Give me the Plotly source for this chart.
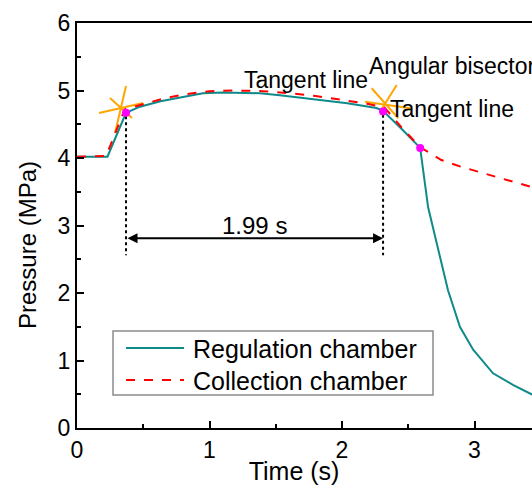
import plotly.graph_objects as go

# Regulation chamber (solid teal)
reg_t = [0, 0.23, 0.37, 0.475, 0.63, 0.78, 0.95, 1.1, 1.38, 1.53, 1.78, 2.04, 2.26, 2.31, 2.46, 2.59,
         2.65, 2.72, 2.80, 2.89, 2.99, 3.14, 3.29, 3.43, 3.5]
reg_p = [4.02, 4.02, 4.67, 4.76, 4.84, 4.90, 4.96, 4.97, 4.96, 4.93, 4.87, 4.81, 4.74, 4.70, 4.41, 4.15,
         3.27, 2.68, 2.04, 1.50, 1.16, 0.81, 0.64, 0.50, 0.46]
# Collection chamber (red dashed)
col_t = [0, 0.22, 0.36, 0.5, 0.65, 0.8, 1.0, 1.2, 1.4, 1.6, 1.8, 2.0, 2.2, 2.32, 2.46, 2.59,
         2.75, 2.9, 3.1, 3.3, 3.5]
col_p = [4.02, 4.03, 4.72, 4.80, 4.88, 4.94, 4.99, 5.00, 4.99, 4.96, 4.92, 4.86, 4.80, 4.75, 4.43, 4.16,
         3.97, 3.87, 3.76, 3.64, 3.53]
# Characteristic points (magenta)
pt_t = [0.37, 2.31, 2.59]
pt_p = [4.67, 4.69, 4.15]
# Tangent / bisector construction segments (orange)
seg_t = [0.166, 0.498, None, 0.287, 0.370, None, 0.249, 0.415, None,
         2.174, 2.513, None, 2.224, 2.425, None, 2.413, 2.287]
seg_p = [4.667, 4.815, None, 4.370, 5.067, None, 4.889, 4.593, None,
         4.834, 4.736, None, 5.033, 4.588, None, 5.081, 4.686]
# Dotted markers of the interval
vline_t = [0.37, 0.37, None, 2.31, 2.31]
vline_p = [4.62, 2.56, None, 4.64, 2.56]
interval_start, interval_end, interval_y = 0.37, 2.31, 2.81
interval_label = "1.99 s"

TEAL = "#0e8a8a"
RED = "#ff0000"
FONT = "Liberation Sans, Arial, sans-serif"

W, H = 532, 485
L, R, T, B = 77, 0, 23, 57

fig = go.Figure()
fig.add_trace(go.Scatter(x=seg_t, y=seg_p, mode="lines", line=dict(color="#ffa500", width=2),
                         showlegend=False, hoverinfo="skip"))
fig.add_trace(go.Scatter(x=vline_t, y=vline_p, mode="lines", line=dict(color="black", width=2, dash="dot"),
                         showlegend=False, hoverinfo="skip"))
fig.add_trace(go.Scatter(x=reg_t, y=reg_p, mode="lines", name="Regulation chamber",
                         line=dict(color=TEAL, width=2), showlegend=False))
fig.add_trace(go.Scatter(x=col_t, y=col_p, mode="lines", name="Collection chamber",
                         line=dict(color=RED, width=2, dash="dash"), showlegend=False))
fig.add_trace(go.Scatter(x=pt_t, y=pt_p, mode="markers", marker=dict(color="#ff00ff", size=8),
                         showlegend=False))

def txt(x, y, s, size, ref="x", xanchor="center", angle=0):
    fig.add_annotation(x=x, y=y, xref=ref if ref == "paper" else "x", yref=ref if ref == "paper" else "y",
                       text=s, showarrow=False, xanchor=xanchor, yanchor="middle", textangle=angle,
                       font=dict(size=size, color="black", family=FONT))

# interval arrow
fig.add_annotation(x=interval_end, y=interval_y, ax=interval_start, ay=interval_y,
                   xref="x", yref="y", axref="x", ayref="y", text="", showarrow=True,
                   arrowhead=2, arrowside="end+start", arrowwidth=2, arrowsize=1, arrowcolor="black")
txt(1.34, 3.0, interval_label, 24)
txt(1.73, 5.16, "Tangent line", 23)
txt(2.19, 5.36, "Angular bisector", 23, xanchor="left")
txt(2.35, 4.73, "Tangent line", 23, xanchor="left")

# paper coordinates relative to plot area
def px(xp): return (xp - L) / (W - L - R)
def py(yp): return (H - B - yp) / (H - B - T)

fig.add_shape(type="rect", xref="paper", yref="paper", x0=px(113), x1=px(433), y0=py(395), y1=py(331),
              line=dict(color="#8c8c8c", width=1.5), fillcolor="white", layer="above")
fig.add_shape(type="line", xref="paper", yref="paper", x0=px(126), x1=px(184), y0=py(348), y1=py(348),
              line=dict(color=TEAL, width=2))
fig.add_shape(type="line", xref="paper", yref="paper", x0=px(126), x1=px(184), y0=py(380), y1=py(380),
              line=dict(color=RED, width=2, dash="dash"))
txt(px(191), py(349), "Regulation chamber", 25, ref="paper", xanchor="left")
txt(px(191), py(381), "Collection chamber", 25, ref="paper", xanchor="left")

# y axis title
txt(px(27), py(245), "Pressure (MPa)", 24, ref="paper", angle=-90)

fig.update_layout(
    width=W, height=H, margin=dict(l=L, r=R, t=T, b=B),
    paper_bgcolor="white", plot_bgcolor="white",
    font=dict(family=FONT, size=23, color="black"),
)
fig.update_xaxes(range=[0, 3.434], tickvals=[0, 1, 2, 3], ticks="inside", ticklen=7, tickwidth=1.5,
                 tickcolor="black", showline=True, linecolor="black", linewidth=2, mirror=True,
                 showgrid=False, zeroline=False, tickfont=dict(size=23),
                 title=dict(text="Time (s)&nbsp;&nbsp;&nbsp;", font=dict(size=25, family=FONT, color="black"),
                            standoff=2),
                 minor=dict(tickvals=[0.5, 1.5, 2.5], ticks="inside", ticklen=4, tickcolor="black", tickwidth=1.5))
fig.update_yaxes(range=[0, 6], tickvals=[0, 1, 2, 3, 4, 5, 6], ticks="inside", ticklen=7, tickwidth=1.5,
                 tickcolor="black", showline=True, linecolor="black", linewidth=2, mirror=False,
                 showgrid=False, zeroline=False, tickfont=dict(size=23),
                 minor=dict(tickvals=[0.5, 1.5, 2.5, 3.5, 4.5, 5.5], ticks="inside", ticklen=4,
                            tickcolor="black", tickwidth=1.5))

fig.write_html("out.html")
